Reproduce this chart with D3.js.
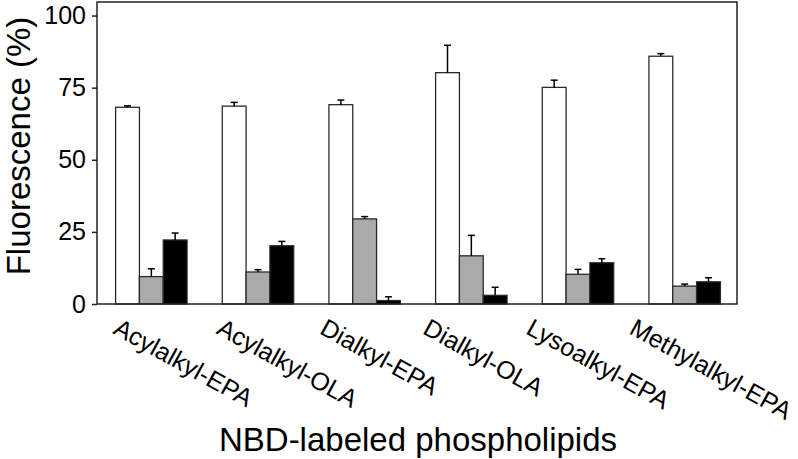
<!DOCTYPE html>
<html>
<head>
<meta charset="utf-8">
<script src="https://cdn.jsdelivr.net/npm/d3@7"></script>
<style>
  html, body { margin: 0; padding: 0; background: #fff; }
  svg { display: block; font-family: "Liberation Sans", Arial, Helvetica, sans-serif; }
</style>
</head>
<body>
<svg id="chart" width="798" height="459"></svg>
<script>
// ---- data ----
const categories = ["Acylalkyl-EPA", "Acylalkyl-OLA", "Dialkyl-EPA", "Dialkyl-OLA", "Lysoalkyl-EPA", "Methylalkyl-EPA"];
const seriesNames = ["white", "gray", "black"];
const whiteValues = [68.2, 68.6, 69.1, 80.2, 75.1, 85.9];
const whiteErrors = [0.5, 1.3, 1.6, 9.5, 2.5, 0.9];
const grayValues  = [9.5, 11.1, 29.5, 16.7, 10.3, 6.2];
const grayErrors  = [2.7, 0.8, 0.8, 7.1, 1.7, 0.7];
const blackValues = [22.2, 20.2, 1.2, 3.0, 14.3, 7.7];
const blackErrors = [2.4, 1.5, 1.3, 2.8, 1.4, 1.4];
const yTicks = [0, 25, 50, 75, 100];
const yTitle = "Fluorescence (%)";
const xTitle = "NBD-labeled phospholipids";

// ---- layout ----
const W = 798, H = 459;
const plotL = 97, plotR = 737, plotT = 2, plotB = 304;
const fills = { white: "#ffffff", gray: "#aaaaaa", black: "#000000" };

const svg = d3.select("#chart");

const x0 = d3.scaleBand().domain(categories).range([plotL + 1, plotR + 1])
  .paddingInner(0.33).paddingOuter(0.165);
const x1 = d3.scaleBand().domain(seriesNames).range([0, x0.bandwidth()]);
const y = d3.scaleLinear().domain([0, 104.7]).range([plotB, plotT]);
const xLabel = d3.scalePoint().domain(categories).range([112, 628]);

const valuesBySeries = { white: whiteValues, gray: grayValues, black: blackValues };
const errorsBySeries = { white: whiteErrors, gray: grayErrors, black: blackErrors };

const rows = [];
categories.forEach((c, i) => {
  seriesNames.forEach(s => {
    rows.push({ cat: c, series: s, value: valuesBySeries[s][i], err: errorsBySeries[s][i] });
  });
});

// bars
svg.append("g").selectAll("rect").data(rows).join("rect")
  .attr("x", d => x0(d.cat) + x1(d.series))
  .attr("y", d => y(d.value))
  .attr("width", x1.bandwidth())
  .attr("height", d => y(0) - y(d.value))
  .attr("fill", d => fills[d.series])
  .attr("stroke", "#2a2a2a")
  .attr("stroke-width", 1.3);

// error bars
const eg = svg.append("g").attr("stroke", "#000").attr("stroke-width", 1.5).attr("fill", "none");
rows.forEach(d => {
  const cx = x0(d.cat) + x1(d.series) + x1.bandwidth() / 2;
  eg.append("line").attr("x1", cx).attr("x2", cx).attr("y1", y(d.value)).attr("y2", y(d.value + d.err));
  eg.append("line").attr("x1", cx - 3.5).attr("x2", cx + 3.5).attr("y1", y(d.value + d.err)).attr("y2", y(d.value + d.err));
});

// frame
svg.append("rect")
  .attr("x", plotL).attr("y", plotT)
  .attr("width", plotR - plotL).attr("height", plotB - plotT)
  .attr("fill", "none").attr("stroke", "#222").attr("stroke-width", 1.5);

// y axis
const yAxis = svg.append("g").attr("transform", `translate(${plotL},0)`)
  .call(d3.axisLeft(y).tickValues(yTicks).tickSize(5).tickPadding(6).tickFormat(d3.format("d")));
yAxis.select(".domain").remove();
yAxis.selectAll(".tick line").attr("stroke", "#222").attr("stroke-width", 1.5);
yAxis.selectAll(".tick text").attr("font-size", 25).attr("fill", "#000")
  .attr("font-family", '"Liberation Sans", Arial, sans-serif');

// x category labels (rotated)
svg.append("g").selectAll("text").data(categories).join("text")
  .attr("transform", d => `translate(${xLabel(d)},333) rotate(29)`)
  .attr("text-anchor", "start")
  .attr("font-size", 25)
  .attr("fill", "#000")
  .text(d => d);

// axis titles
svg.append("text")
  .attr("x", (plotL + plotR) / 2 + 1).attr("y", 451)
  .attr("text-anchor", "middle").attr("font-size", 33).attr("fill", "#000")
  .text(xTitle);

svg.append("text")
  .attr("transform", `translate(30,146) rotate(-90)`)
  .attr("text-anchor", "middle").attr("font-size", 33).attr("fill", "#000")
  .text(yTitle);
</script>
</body>
</html>
